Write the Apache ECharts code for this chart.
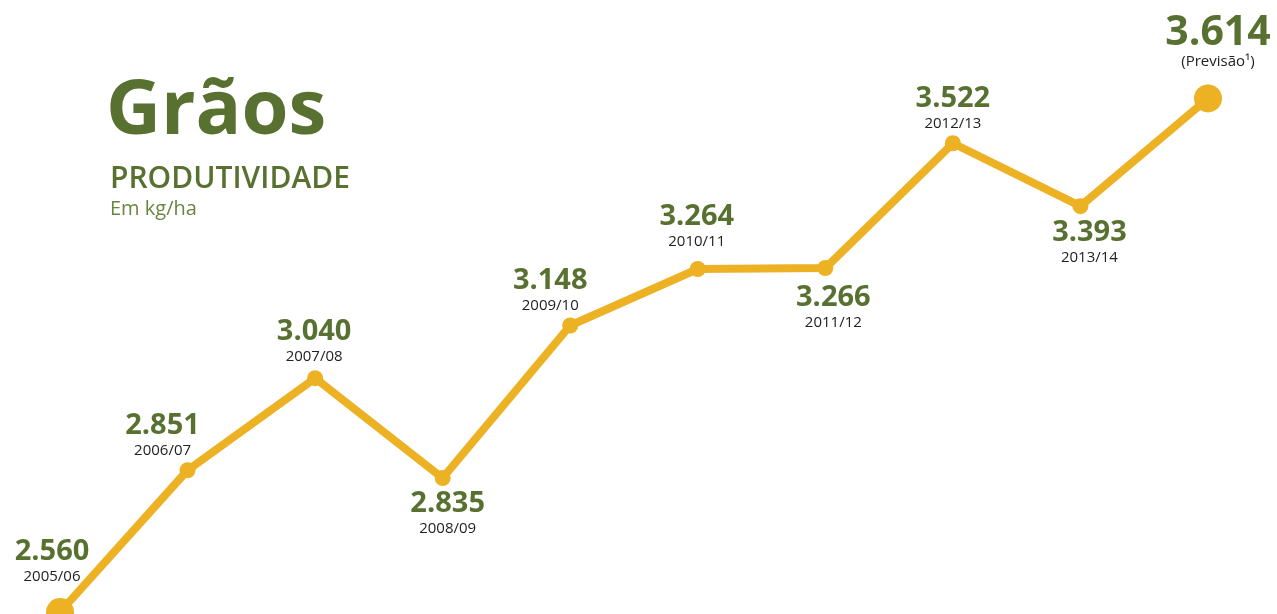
<!DOCTYPE html>
<html lang="pt">
<head>
<meta charset="UTF-8">
<style>
  html, body { height: 100%; margin: 0; background: #fff; }
</style>
</head>
<body>
<div id="chart" style="width:1277px;height:614px;"></div>
<script src="https://cdn.jsdelivr.net/npm/echarts@6/dist/echarts.min.js"></script>
<script>
// safras e produtividade (kg/ha)
var safras = ['2005/06', '2006/07', '2007/08', '2008/09', '2009/10', '2010/11', '2011/12', '2012/13', '2013/14', '(Previsão¹)'];
var produtividade = [2560, 2851, 3040, 2835, 3148, 3264, 3266, 3522, 3393, 3614];

// deslocamento dos rótulos em relação ao ponto (px)
var labelOffsets = [[-8, -50], [-25, -35], [-1, -36], [5, 36], [-20, -35], [-1, -42], [8, 40], [0, -35], [9, 37], [10, -55]];

var verde = '#587131';
var amarelo = '#EDB124';
var fonte = '"Open Sans", "Noto Sans", sans-serif';

var last = produtividade.length - 1;

function rotulo(i) {
    var txt = (produtividade[i] / 1000).toFixed(3);   // 2560 -> 2.560
    var key = i === last ? 'vb' : 'v';
    return '{' + key + '|' + txt + '}\n{y|' + safras[i] + '}';
}

var pontos = produtividade.map(function (v, i) {
    var big = (i === 0 || i === last);
    return {
        value: v,
        symbolSize: big ? 28 : 16,
        label: {
            position: 'inside',
            offset: labelOffsets[i],
            formatter: rotulo(i)
        }
    };
});

var myChart = echarts.init(document.getElementById('chart'));
myChart.setOption({
    animation: false,
    title: [
        { text: 'Grãos', left: 106, top: 74, padding: 0, textStyle: { color: verde, fontFamily: fonte, fontWeight: 'bold', fontSize: 76 } },
        { text: 'PRODUTIVIDADE', left: 110, top: 164, padding: 0, textStyle: { color: verde, fontFamily: fonte, fontWeight: 600, fontSize: 30 } },
        { text: 'Em kg/ha', left: 110, top: 199, padding: 0, textStyle: { color: '#6a8540', fontFamily: fonte, fontWeight: 'normal', fontSize: 20 } }
    ],
    grid: { left: 60, right: 69, top: 0, bottom: 0 },
    xAxis: {
        type: 'category',
        data: safras,
        boundaryGap: false,
        show: false
    },
    yAxis: {
        type: 'value',
        min: 2556,
        max: 3816,
        show: false
    },
    series: [{
        type: 'line',
        data: pontos,
        symbol: 'circle',
        clip: false,
        lineStyle: { color: amarelo, width: 8 },
        itemStyle: { color: amarelo },
        label: {
            show: true,
            align: 'center',
            rich: {
                v: { color: verde, fontFamily: fonte, fontWeight: 'bold', fontSize: 29, lineHeight: 30, align: 'center' },
                vb: { color: verde, fontFamily: fonte, fontWeight: 'bold', fontSize: 41, lineHeight: 36, align: 'center' },
                y: { color: '#222', fontFamily: fonte, fontSize: 15, lineHeight: 20, align: 'center' }
            }
        }
    }]
});
</script>
</body>
</html>
